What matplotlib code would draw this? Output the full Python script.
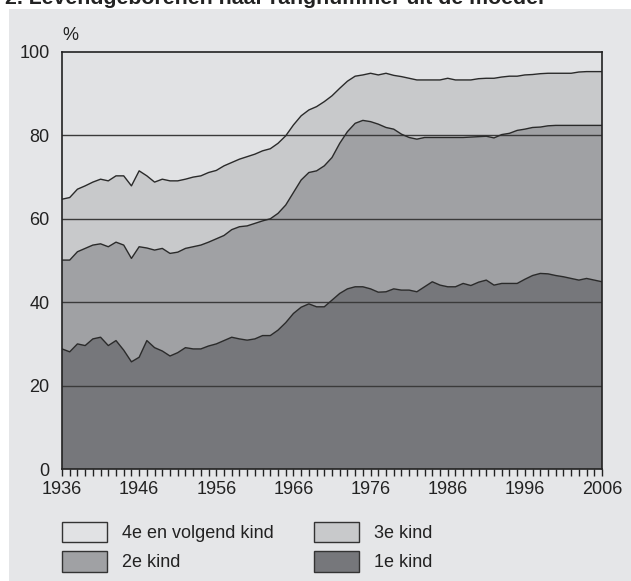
import numpy as np
import matplotlib
matplotlib.use("Agg")
import matplotlib.pyplot as plt
from matplotlib.patches import Rectangle, Patch
from matplotlib.ticker import MultipleLocator

plt.rcParams['font.family'] = ['Liberation Sans', 'DejaVu Sans']

# ==========================
# data (cumulatieve grenzen, %)
# ==========================
jaren = list(range(1936, 2007))

t_m_1e = [28.8, 28.1, 30.0, 29.6, 31.2, 31.6, 29.6, 30.8, 28.5, 25.7,
          26.8, 30.8, 29.1, 28.3, 27.1, 27.9, 29.1, 28.8, 28.8, 29.5,
          30.0, 30.8, 31.6, 31.2, 30.9, 31.2, 32.0, 32.0, 33.3, 35.1,
          37.3, 38.8, 39.6, 38.9, 38.9, 40.5, 42.1, 43.2, 43.7, 43.7,
          43.2, 42.4, 42.5, 43.2, 42.9, 42.9, 42.5, 43.7, 44.9, 44.1,
          43.7, 43.7, 44.5, 44.0, 44.8, 45.3, 44.1, 44.5, 44.5, 44.5,
          45.5, 46.4, 46.9, 46.8, 46.4, 46.1, 45.7, 45.3, 45.7, 45.3,
          44.9]

t_m_2e = [50.1, 50.1, 52.1, 52.9, 53.7, 54.0, 53.3, 54.4, 53.7, 50.5,
          53.3, 53.0, 52.5, 52.9, 51.7, 52.0, 52.9, 53.3, 53.7, 54.4,
          55.2, 56.0, 57.4, 58.1, 58.3, 58.9, 59.5, 60.0, 61.3, 63.3,
          66.3, 69.3, 71.1, 71.5, 72.7, 74.7, 78.1, 80.9, 82.9, 83.6,
          83.3, 82.7, 81.9, 81.5, 80.3, 79.5, 79.1, 79.5, 79.5, 79.5,
          79.5, 79.5, 79.5, 79.6, 79.7, 79.8, 79.4, 80.2, 80.5, 81.2,
          81.5, 81.9, 82.0, 82.3, 82.4, 82.4, 82.4, 82.4, 82.4, 82.4,
          82.4]

t_m_3e = [64.7, 65.1, 67.1, 67.9, 68.8, 69.5, 69.1, 70.3, 70.3, 67.9,
          71.5, 70.3, 68.8, 69.5, 69.1, 69.1, 69.5, 70.0, 70.3, 71.1,
          71.6, 72.7, 73.5, 74.3, 74.9, 75.5, 76.3, 76.8, 78.1, 79.9,
          82.5, 84.7, 86.1, 86.9, 88.1, 89.5, 91.3, 93.0, 94.2, 94.5,
          94.9, 94.5, 94.9, 94.4, 94.1, 93.7, 93.3, 93.3, 93.3, 93.3,
          93.7, 93.3, 93.3, 93.3, 93.6, 93.7, 93.7, 94.0, 94.2, 94.2,
          94.5, 94.6, 94.8, 94.9, 94.9, 94.9, 94.9, 95.2, 95.3, 95.3,
          95.3]

labels = ["1e kind", "2e kind", "3e kind", "4e en volgend kind"]
kleuren = ["#76777b", "#a0a1a4", "#c8c9cb", "#e1e2e4"]
x_labels = ["1936", "1946", "1956", "1966", "1976", "1986", "1996", "2006"]

# ==========================
# figuur
# ==========================
W, H = 631, 581
fig = plt.figure(figsize=(W / 100, H / 100), dpi=100)
fig.patch.set_facecolor("white")
fig.patches.append(Rectangle((9 / W, 0), 1, (H - 9) / H, transform=fig.transFigure,
                             facecolor="#e5e6e8", edgecolor="none", zorder=-10))

fig.text(5 / W, 1 - 4 / H, "2. Levendgeborenen naar rangnummer uit de moeder",
         fontsize=15.3, fontweight="bold", color="#222222", va="baseline", ha="left")

ax = fig.add_axes([62 / W, (H - 469) / H, 540 / W, 417 / H])

x = np.array(jaren)
onder = np.zeros(len(x))
grenzen = [np.array(t_m_1e), np.array(t_m_2e), np.array(t_m_3e), np.full(len(x), 100.0)]
for grens, kleur in zip(grenzen, kleuren):
    ax.fill_between(x, onder, grens, facecolor=kleur, edgecolor="none", zorder=1)
    onder = grens

for grens in grenzen[:3]:
    ax.plot(x, grens, color="#2a2a2a", lw=1.0, zorder=3)

for yv in [20, 40, 60, 80]:
    ax.axhline(yv, color="#3a3a3a", lw=1.0, zorder=2)

ax.set_xlim(1936, 2006)
ax.set_ylim(0, 100)
ax.set_xticks(range(1936, 2007, 10))
ax.set_xticklabels(x_labels)
ax.xaxis.set_minor_locator(MultipleLocator(1))
ax.set_yticks([0, 20, 40, 60, 80, 100])
ax.tick_params(axis="x", which="both", direction="out", length=5, width=1,
               color="#222222", labelsize=13, pad=4, labelcolor="#222222")
ax.tick_params(axis="y", length=0, pad=9, labelsize=13, labelcolor="#222222")
for sp in ax.spines.values():
    sp.set_color("#222222")
    sp.set_linewidth(1.2)
    sp.set_zorder(4)

fig.text(62 / W, 1 - 40 / H, "%", fontsize=13, color="#222222", ha="left", va="baseline")

# legenda
handles = [Patch(facecolor=kleuren[3], edgecolor="#333333", lw=1.0, label=labels[3]),
           Patch(facecolor=kleuren[1], edgecolor="#333333", lw=1.0, label=labels[1]),
           Patch(facecolor=kleuren[2], edgecolor="#333333", lw=1.0, label=labels[2]),
           Patch(facecolor=kleuren[0], edgecolor="#333333", lw=1.0, label=labels[0])]
fig.legend(handles=handles, ncol=2, loc="upper left", bbox_to_anchor=(62 / W, 1 - 522 / H),
           frameon=False, fontsize=13, handlelength=2.5, handleheight=1.35,
           handletextpad=0.85, columnspacing=2.2, labelspacing=0.5, borderaxespad=0,
           borderpad=0, labelcolor="#222222")

fig.savefig("out.png", dpi=100)
